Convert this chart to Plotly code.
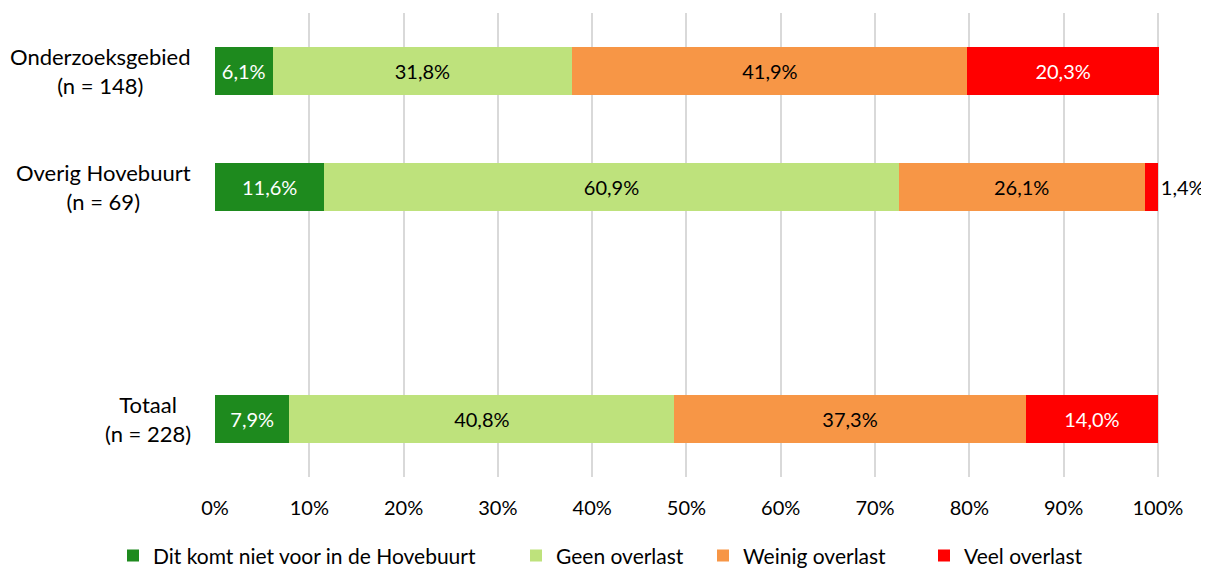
import plotly.graph_objects as go

group_names = ["Onderzoeksgebied", "Overig Hovebuurt", "Totaal"]
group_n = ["(n = 148)", "(n = 69)", "(n = 228)"]
group_pos = [3, 2, 0]
series_names = ["Dit komt niet voor in de Hovebuurt", "Geen overlast", "Weinig overlast", "Veel overlast"]
niet_voor = [6.1, 11.6, 7.9]
geen = [31.8, 60.9, 40.8]
weinig = [41.9, 26.1, 37.3]
veel = [20.3, 1.4, 14.0]
colors = ["#1E8A1E", "#BEE27C", "#F79646", "#FF0000"]
text_colors = ["white", "black", "black", "white"]
x_ticks = [0, 10, 20, 30, 40, 50, 60, 70, 80, 90, 100]

FONT = "Lato"
FS = 20
# page body has an 8px margin; size the figure to fit the 1209x572 window
W, H = 1201, 564
ML, MR, MT, MB = 207, 50, 5, 95
PW = W - ML - MR
# legend symbol centres (page pixels)
legend_sym_px = [133, 536, 723, 944]
legend_ids = ["legend", "legend2", "legend3", "legend4"]

fig = go.Figure()
for i, (name, vals, col, tc) in enumerate(zip(series_names, [niet_voor, geen, weinig, veel], colors, text_colors)):
    labels = [f"{v:.1f}%".replace(".", ",") for v in vals]
    is_last = i == 3
    fig.add_trace(go.Bar(
        y=group_pos, x=vals, orientation="h", name=name,
        marker=dict(color=col, line=dict(width=0)),
        text=labels,
        textposition="auto" if is_last else "inside",
        insidetextanchor="middle",
        insidetextfont=dict(family=FONT, size=FS, color=tc),
        outsidetextfont=dict(family=FONT, size=FS, color="black"),
        cliponaxis=False, width=0.41,
        hoverinfo="x+name",
        legend=legend_ids[i],
    ))

for name, n, pos in zip(group_names, group_n, group_pos):
    fig.add_annotation(
        x=0, xref="paper", xshift=-22, y=pos, yref="y",
        text=f"{name}<br>{n}", showarrow=False, xanchor="right", yanchor="middle",
        align="center", font=dict(family=FONT, size=22, color="black"),
    )

legend_layout = {}
for lid, px in zip(legend_ids, legend_sym_px):
    legend_layout[lid] = dict(
        orientation="h", x=(px - 20 - 8 - ML) / PW, xanchor="left",
        y=-0.17, yanchor="middle", font=dict(size=21, family=FONT),
        itemwidth=30, bgcolor="rgba(0,0,0,0)",
    )

fig.update_layout(
    barmode="stack",
    width=W, height=H,
    margin=dict(l=ML, r=MR, t=MT, b=MB, autoexpand=False),
    paper_bgcolor="white", plot_bgcolor="white",
    font=dict(family=FONT, size=FS, color="black"),
    uniformtext=dict(minsize=FS, mode="show"),
    xaxis=dict(range=[0, 100.12], tickvals=x_ticks, ticktext=[f"{t}%" for t in x_ticks],
               showgrid=True, gridcolor="#D9D9D9", gridwidth=2, zeroline=False,
               showline=False, ticks="", ticklabelstandoff=17, automargin=False,
               tickfont=dict(size=FS, family=FONT)),
    yaxis=dict(range=[-0.5, 3.5], tickvals=group_pos, showticklabels=False, showgrid=False,
               zeroline=False, showline=False, ticks="", automargin=False),
    bargap=0.6,
    showlegend=True,
    **legend_layout,
)
fig.write_html("out.html")
